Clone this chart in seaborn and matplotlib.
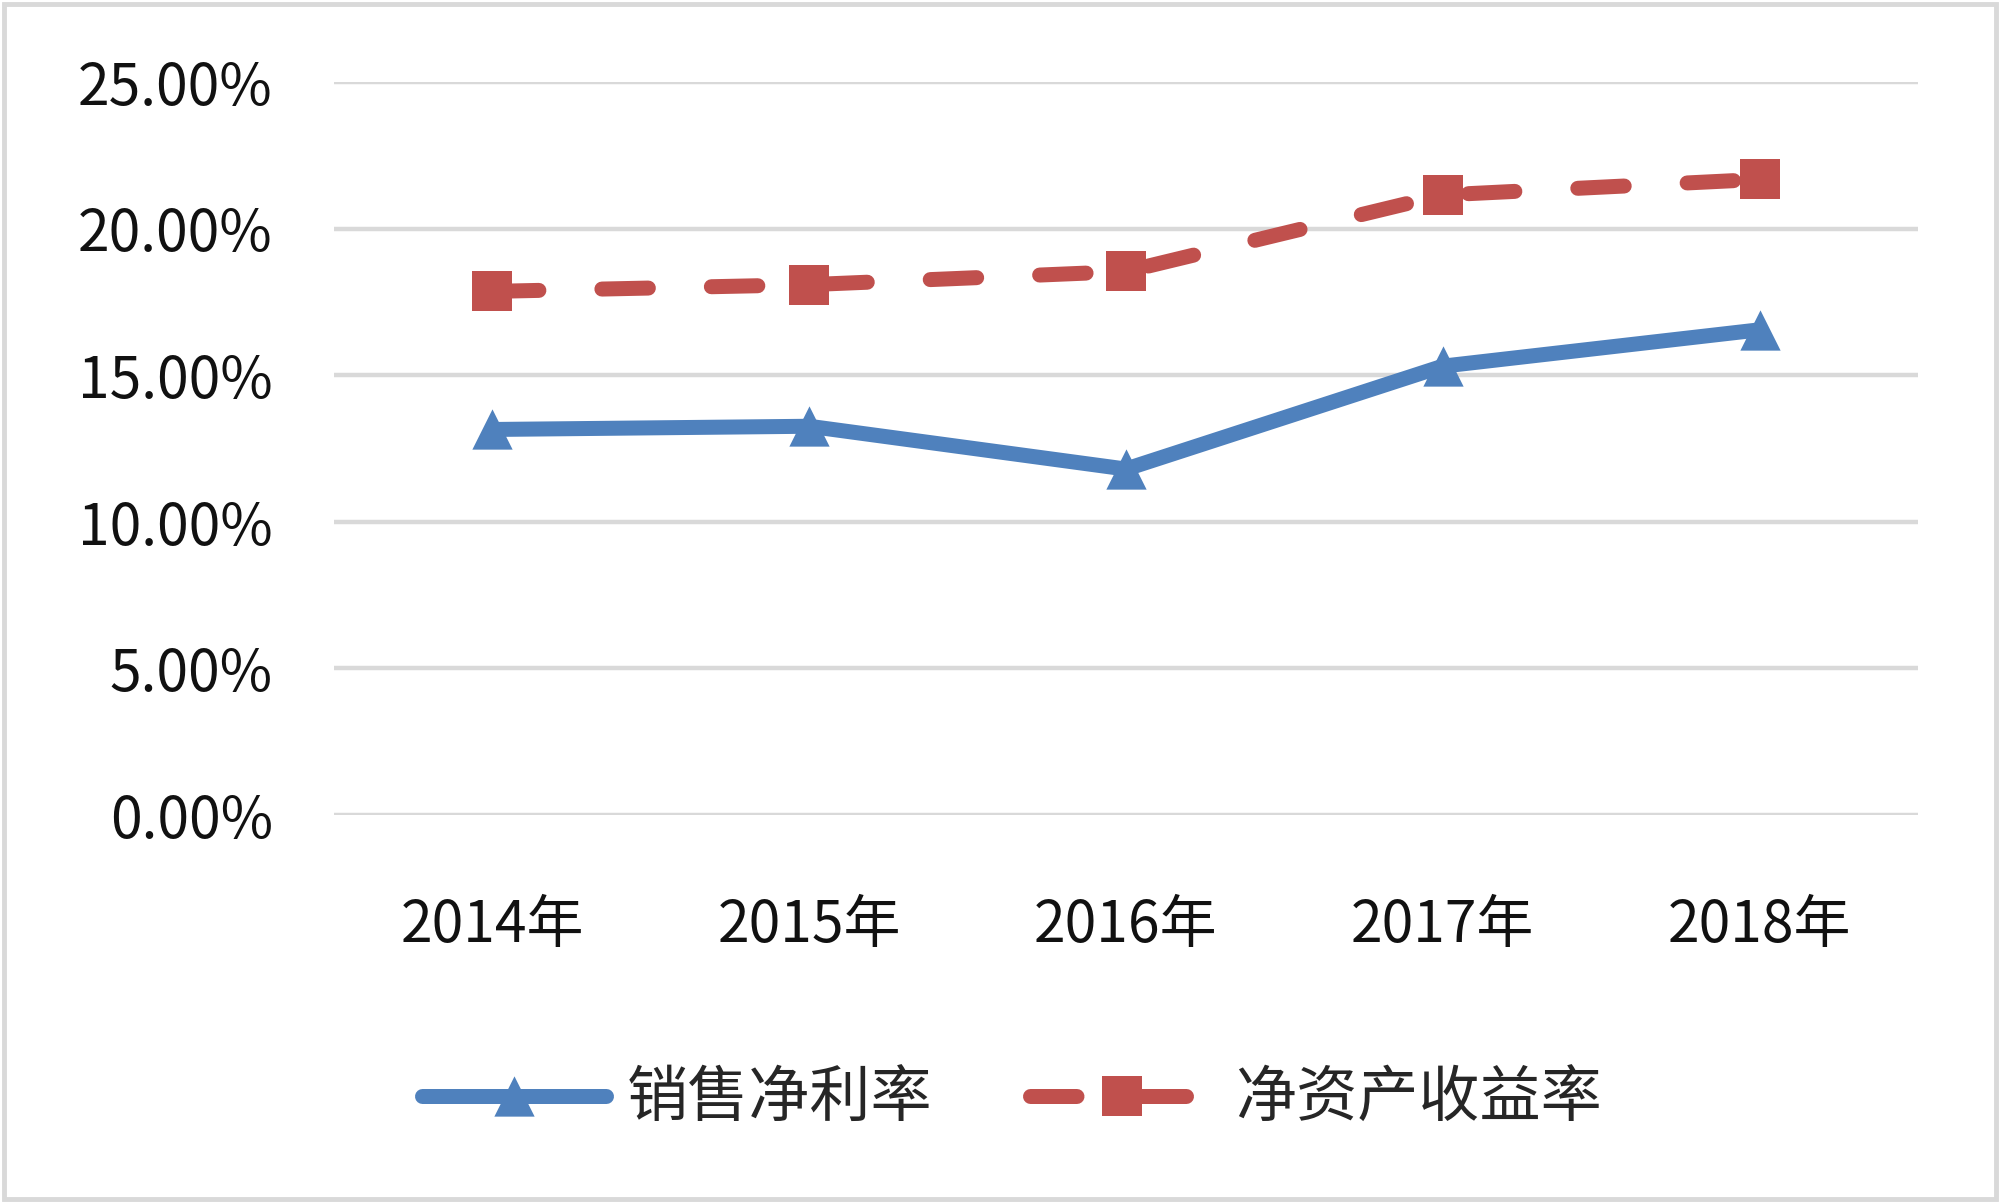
import numpy as np
import pandas as pd
import matplotlib
matplotlib.use("Agg")
import matplotlib.pyplot as plt
from matplotlib.ticker import PercentFormatter
from matplotlib.patches import Rectangle
import seaborn as sns

# 数据
years = ["2014年", "2015年", "2016年", "2017年", "2018年"]
net_profit_margin = [0.1315, 0.1326, 0.1180, 0.1531, 0.1655]  # 销售净利率
roe = [0.1786, 0.1809, 0.1854, 0.2115, 0.2168]                # 净资产收益率
series_names = ["销售净利率", "净资产收益率"]

sns.set_style("white")
plt.rcParams["font.family"] = ["Noto Sans CJK SC", "DejaVu Sans"]

df = pd.DataFrame({"year": years, "npm": net_profit_margin, "roe": roe})

fig = plt.figure(figsize=(20, 12.03), dpi=100)
ax = fig.add_axes([0.167, 0.3225, 0.792, 0.6093])

tri = [(-0.5, -0.5), (0.5, -0.5), (0.0, 0.5), (-0.5, -0.5)]
sq = [(-0.5, -0.5), (0.5, -0.5), (0.5, 0.5), (-0.5, 0.5), (-0.5, -0.5)]

sns.lineplot(data=df, x="year", y="npm", ax=ax, color="#4F81BD", lw=10.8,
             marker=tri, markersize=29, markeredgewidth=0,
             solid_capstyle="round", solid_joinstyle="round",
             label=series_names[0])
sns.lineplot(data=df, x="year", y="roe", ax=ax, color="#C0504D", lw=10.8,
             linestyle=(0, (3.1, 4.2)), dash_capstyle="round",
             marker=sq, markersize=29, markeredgewidth=0,
             label=series_names[1])

ax.set_xlim(-0.5, 4.5)
ax.set_ylim(0, 0.25)
ax.set_yticks(np.arange(0, 0.2501, 0.05))
ax.yaxis.set_major_formatter(PercentFormatter(1, decimals=2))
ax.yaxis.grid(True, color="#D9D9D9", lw=3.2)
ax.set_axisbelow(True)
for s in ax.spines.values():
    s.set_visible(False)
ax.tick_params(axis="both", length=0, labelsize=41, labelcolor="#111111")
ax.tick_params(axis="y", pad=44)
ax.tick_params(axis="x", pad=59)
for lbl in ax.get_xticklabels() + ax.get_yticklabels():
    lbl.set_fontweight("medium")
ax.set_xlabel("")
ax.set_ylabel("")

ax.legend(loc="center", bbox_to_anchor=(0.506, 0.0856), bbox_transform=fig.transFigure,
          ncol=2, frameon=False, fontsize=44, handlelength=3.0, handletextpad=0.35,
          columnspacing=1.6, numpoints=1)

fig.patches.append(Rectangle((0.002, 0.003), 0.996, 0.994, transform=fig.transFigure,
                             fill=False, edgecolor="#D9D9D9", lw=3.5))

fig.savefig("out.png", dpi=100)
